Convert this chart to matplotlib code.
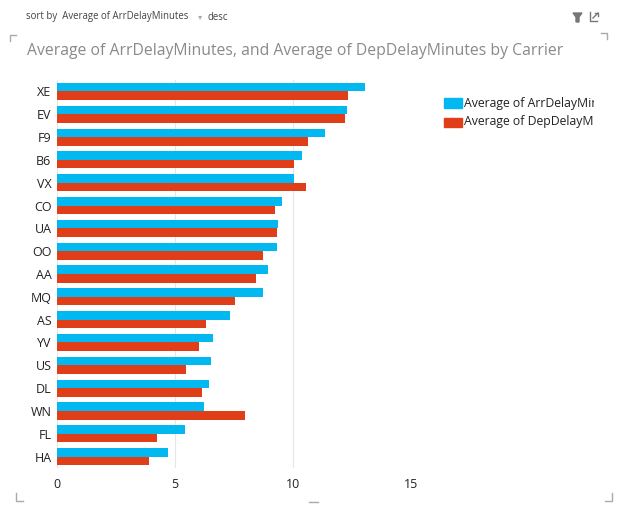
import matplotlib
matplotlib.use("Agg")
import matplotlib.pyplot as plt
import numpy as np
from matplotlib.patches import Polygon, Rectangle
from matplotlib.lines import Line2D
from matplotlib.transforms import Bbox

carriers = ["XE", "EV", "F9", "B6", "VX", "CO", "UA", "OO", "AA",
            "MQ", "AS", "YV", "US", "DL", "WN", "FL", "HA"]
arr_delay = [13.08, 12.28, 11.35, 10.41, 10.06, 9.56, 9.38, 9.33, 8.95,
             8.75, 7.35, 6.62, 6.51, 6.43, 6.24, 5.43, 4.71]
dep_delay = [12.35, 12.23, 10.64, 10.03, 10.58, 9.26, 9.33, 8.72, 8.45,
             7.55, 6.31, 6.01, 5.48, 6.13, 7.97, 4.26, 3.91]
x_ticks = [0, 5, 10, 15]
series_names = ["Average of ArrDelayMinutes", "Average of DepDelayMinutes"]

BLUE = "#01B8F0"
RED = "#DF3E18"
W, H = 632, 529

plt.rcParams["font.family"] = ["Open Sans", "DejaVu Sans"]

fig = plt.figure(figsize=(W / 100, H / 100), dpi=100)


def fx(px):
    return px / W


def fy(py):
    return 1 - py / H


ax = fig.add_axes([fx(57), fy(468), fx(410.7) - fx(57), fy(80) - fy(468)])
y = np.arange(len(carriers))
bh = 0.375
ax.barh(y - bh / 2, arr_delay, height=bh, color=BLUE, label=series_names[0])
ax.barh(y + bh / 2, dep_delay, height=bh, color=RED, label=series_names[1])
ax.set_ylim(len(carriers) - 0.5, -0.5)
ax.set_xlim(0, 15)
ax.set_yticks(y)
ax.set_yticklabels(carriers, fontsize=9, color="#222222")
ax.set_xticks(x_ticks)
ax.set_xticklabels([str(t) for t in x_ticks], fontsize=9, color="#222222")
ax.tick_params(length=0, axis="y", pad=4)
ax.tick_params(length=0, axis="x", pad=7)
for s in ax.spines.values():
    s.set_visible(False)
ax.grid(axis="x", color="#e6e6e6", linewidth=0.8)
ax.set_axisbelow(True)

# title and header
fig.text(fx(27), fy(51), "Average of ArrDelayMinutes, and Average of DepDelayMinutes by Carrier",
         fontsize=11.3, color="#8a8a8a", va="center", ha="left")
fig.text(fx(26), fy(17), "sort by  Average of ArrDelayMinutes", fontsize=6.9,
         color="#444444", va="center", ha="left")
fig.text(fx(198), fy(17), "\u25be", fontsize=6, color="#aaaaaa", va="center", ha="left",
         family=["DejaVu Sans"])
fig.text(fx(207), fy(17), "desc", fontsize=6.9, color="#444444", va="center", ha="left")

# legend drawn by hand so text can be clipped like the original
clip = Bbox.from_extents(0, 0, 594, H)
for i, (name, col) in enumerate(zip(series_names, [BLUE, RED])):
    yc = 103 + i * 19
    fig.patches.append(Rectangle((fx(444), fy(yc + 4.5)), fx(18), fy(yc - 4.5) - fy(yc + 4.5),
                                 transform=fig.transFigure, color=col))
    t = fig.text(fx(464), fy(yc), name, fontsize=8.8, color="#222222",
                 va="center", ha="left")
    t.set_clip_box(clip)
    t.set_clip_on(True)

# corner brackets
gray = "#aaaaaa"
brackets = [
    ([10, 10, 16], [41, 35, 35]),
    ([601, 607, 607], [33, 33, 39]),
    ([16, 16, 23], [493, 501, 501]),
    ([612, 612, 605], [493, 501, 501]),
    ([309, 318], [502, 502]),
]
for xs, ys in brackets:
    fig.lines.append(Line2D([fx(v) for v in xs], [fy(v) for v in ys],
                            transform=fig.transFigure, color=gray, linewidth=1))

# filter and pop-out icons
funnel = Polygon([(fx(573), fy(13)), (fx(582), fy(13)), (fx(579), fy(17)),
                  (fx(579), fy(22)), (fx(576), fy(22)), (fx(576), fy(17))],
                 closed=True, transform=fig.transFigure, color="#777777")
fig.patches.append(funnel)
for xs, ys in [([590, 590, 597], [12, 21, 21]), ([593, 598], [18, 13]),
               ([595, 598, 598], [13, 13, 16])]:
    fig.lines.append(Line2D([fx(v) for v in xs], [fy(v) for v in ys],
                            transform=fig.transFigure, color="#777777", linewidth=1))

fig.savefig("out.png", dpi=100)
